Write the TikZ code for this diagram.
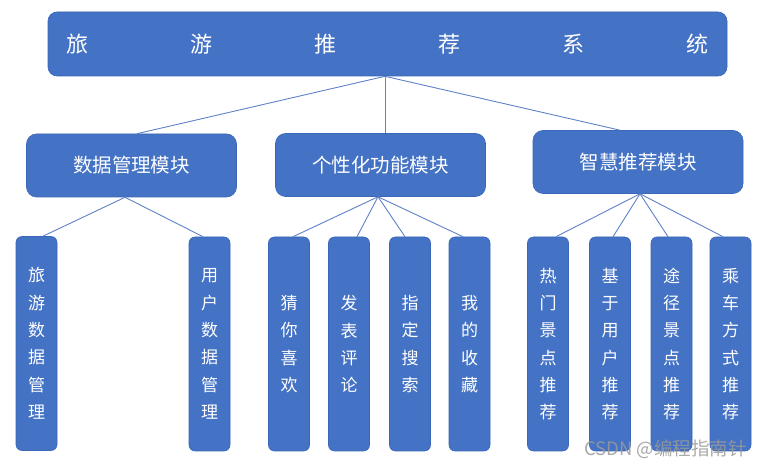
\documentclass[tikz,border=0pt]{standalone}
\usepackage{fontspec}
\newfontfamily\cjk{Noto Sans CJK SC}
\definecolor{boxblue}{HTML}{4472C4}
\definecolor{boxedge}{HTML}{3B67B8}
\definecolor{linkblue}{HTML}{5F82C8}
\definecolor{wmgray}{HTML}{9A9A9A}
\begin{document}
\begin{tikzpicture}[x=1pt,y=-1pt,
  box/.style={fill=boxblue,draw=boxedge,line width=0.6pt,text=white,inner sep=0pt},
  titlebox/.style={box,rounded corners=9pt,minimum width=679pt,minimum height=64pt,font=\cjk\fontsize{22}{26}\selectfont},
  midbox/.style={box,rounded corners=10pt,minimum width=210pt,minimum height=63pt,font=\cjk\fontsize{19.5}{24}\selectfont},
  leafbox/.style={box,rounded corners=6pt,minimum width=41pt,minimum height=214pt,align=center,font=\cjk\fontsize{17}{27.3}\selectfont},
  link/.style={draw=linkblue,line width=0.9pt}]
\useasboundingbox (0,0) rectangle (772,470);
\fill[white] (0,0) rectangle (772,470);

\node[titlebox] (title) at (387.5,44) {旅\hspace{102pt}游\hspace{102pt}推\hspace{102pt}荐\hspace{102pt}系\hspace{102pt}统};

\node[midbox] (m1) at (131.5,165.5) {数据管理模块};
\node[midbox] (m2) at (380.5,165) {个性化功能模块};
\node[midbox] (m3) at (638,162) {智慧推荐模块};

\node[leafbox] (c1) at (36.5,343.5) {旅\\游\\数\\据\\管\\理};
\node[leafbox] (c2) at (209.5,344) {用\\户\\数\\据\\管\\理};
\node[leafbox] (c3) at (289,344) {猜\\你\\喜\\欢};
\node[leafbox] (c4) at (349,344) {发\\表\\评\\论};
\node[leafbox] (c5) at (410,344) {指\\定\\搜\\索};
\node[leafbox] (c6) at (469.5,344) {我\\的\\收\\藏};
\node[leafbox] (c7) at (548,344) {热\\门\\景\\点\\推\\荐};
\node[leafbox] (c8) at (610,344) {基\\于\\用\\户\\推\\荐};
\node[leafbox] (c9) at (671.5,344) {途\\径\\景\\点\\推\\荐};
\node[leafbox] (c10) at (730.5,344) {乘\\车\\方\\式\\推\\荐};

\coordinate (t0) at ([xshift=-2.5pt]title.south);
\draw[link] (t0) -- ([xshift=5.5pt]m1.north);
\draw[link] (t0) -- ([xshift=4.5pt]m2.north);
\draw[link] (t0) -- ([xshift=-18pt]m3.north);

\coordinate (b1) at ([xshift=-6.5pt]m1.south);
\draw[link] (b1) -- ([xshift=6.5pt]c1.north);
\draw[link] (b1) -- ([xshift=-6.5pt]c2.north);

\coordinate (b2) at ([xshift=-2.5pt]m2.south);
\draw[link] (b2) -- ([xshift=4pt]c3.north);
\draw[link] (b2) -- ([xshift=8pt]c4.north);
\draw[link] (b2) -- ([xshift=-5pt]c5.north);
\draw[link] (b2) -- ([xshift=-6.5pt]c6.north);

\coordinate (b3) at ([xshift=2pt]m3.south);
\draw[link] (b3) -- ([xshift=8pt]c7.north);
\draw[link] (b3) -- ([xshift=3pt]c8.north);
\draw[link] (b3) -- ([xshift=-3.5pt]c9.north);
\draw[link] (b3) -- ([xshift=-7.5pt]c10.north);

\node[text=wmgray,opacity=0.85,font=\cjk\fontsize{18.5}{20}\selectfont,anchor=west,inner sep=0pt] (wm) at (584,449) {CSDN @编程指南针};
\end{tikzpicture}
\end{document}
